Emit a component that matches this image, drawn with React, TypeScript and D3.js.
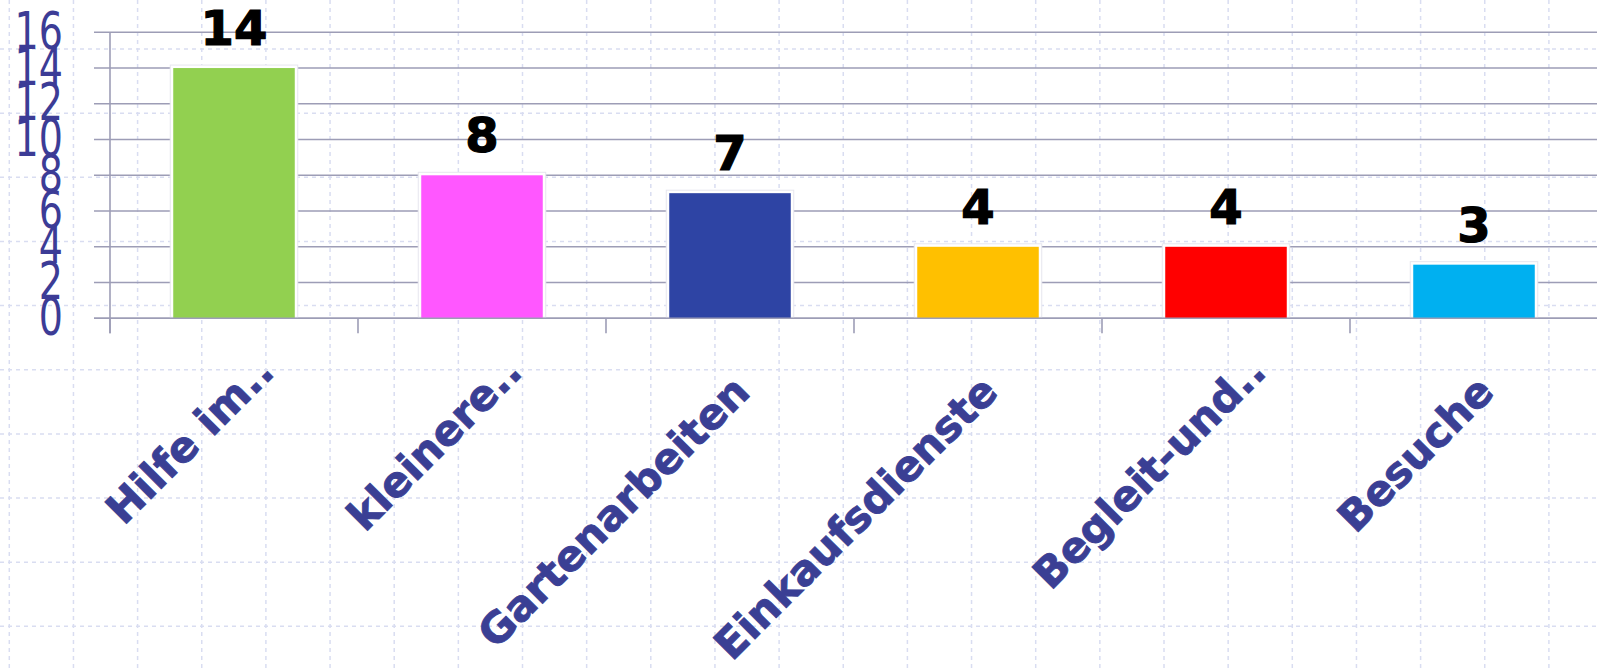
import React, { useEffect } from "react";
import * as d3 from "d3";

const categories = ["Hilfe im..", "kleinere..", "Gartenarbeiten", "Einkaufsdienste", "Begleit-und..", "Besuche"];
const values = [14, 8, 7, 4, 4, 3];
const colors = ["#92d050", "#ff57ff", "#2e44a4", "#ffc000", "#ff0000", "#00b0f0"];
const yTicks = [0, 2, 4, 6, 8, 10, 12, 14, 16];

const W = 1597;
const H = 668;

export default function App() {
  useEffect(() => {
    document.body.style.margin = "0";
  }, []);

  const x = d3.scaleBand<string>().domain(categories).range([110, 110 + 6 * 248]).padding(0);
  const y = d3.scaleLinear().domain([0, 16]).range([318.3, 32.3]);
  const barW = x.bandwidth() * 0.49;

  const bgStep = 64.15;
  const bgV = d3.range(0, 26).map((k) => 9.3 + k * bgStep).filter((v) => v <= W);
  const bgH = d3.range(0, 11).map((k) => 49 + k * bgStep).filter((v) => v <= H);

  const gridColor = "#9d9db6";
  const labelBlue = "#3a3f94";

  return (
    <svg width={W} height={H} style={{ position: "absolute", left: 0, top: 0, background: "#ffffff" }}>
      <rect x={0} y={0} width={W} height={H} fill="#ffffff" />
      {/* background dashed grid */}
      <g stroke="#d9ddf1" strokeWidth={1.5} strokeDasharray="4,4">
        {bgV.map((v, i) => (
          <line key={"bv" + i} x1={v} x2={v} y1={0} y2={H} />
        ))}
        {bgH.map((v, i) => (
          <line key={"bh" + i} x1={0} x2={W} y1={v} y2={v} />
        ))}
      </g>
      {/* horizontal gridlines */}
      <g stroke={gridColor} strokeWidth={1.6}>
        {yTicks.map((t) => (
          <line key={"g" + t} x1={94} x2={W} y1={y(t)} y2={y(t)} />
        ))}
        <line x1={110} x2={110} y1={y(16)} y2={y(0) + 15} />
        {categories.map((c) => (
          <line key={"t" + c} x1={x(c)!} x2={x(c)!} y1={y(0)} y2={y(0) + 15} />
        ))}
      </g>
      {/* y labels */}
      <g fill="#3c3c96" fontFamily="DejaVu Sans, Verdana, sans-serif" fontSize={50.7}>
        {yTicks.map((t) => (
          <text
            key={"yl" + t}
            textAnchor="end"
            transform={`translate(63, ${y(t) + 16.5}) scale(0.75, 1)`}
          >
            {t}
          </text>
        ))}
      </g>
      {/* bars */}
      {categories.map((c, i) => {
        const cx = x(c)! + x.bandwidth() / 2;
        const top = y(values[i]);
        return (
          <g key={"b" + c}>
            <rect x={cx - barW / 2 - 3} y={top - 3} width={barW + 6} height={y(0) - top + 2} fill="#ffffff" />
            <rect x={cx - barW / 2 - 3} y={top - 3} width={barW + 6} height={y(0) - top + 2} fill="none" stroke="#e6e6ee" strokeWidth={1} />
            <rect x={cx - barW / 2} y={top} width={barW} height={y(0) - top} fill={colors[i]} />
          </g>
        );
      })}
      <line x1={94} x2={W} y1={y(0)} y2={y(0)} stroke={gridColor} strokeWidth={1.6} />
      {/* value labels */}
      <g fill="#000000" stroke="#000000" strokeWidth={1.2} fontFamily="DejaVu Sans, Verdana, sans-serif" fontWeight="bold" fontSize={48} textAnchor="middle">
        {categories.map((c, i) => (
          <text key={"v" + c} x={x(c)! + x.bandwidth() / 2} y={y(values[i]) - 23}>
            {values[i]}
          </text>
        ))}
      </g>
      {/* category labels */}
      <g fill={labelBlue} stroke={labelBlue} strokeWidth={0.9} fontFamily="DejaVu Sans, Verdana, sans-serif" fontWeight="bold" fontSize={42} textAnchor="end">
        {categories.map((c) => {
          const shift = c.endsWith("..") ? 20 : 0;
          return (
            <text key={"c" + c} transform={`translate(${x(c)! + x.bandwidth() / 2 + 22 + shift}, ${394 - shift}) rotate(-45)`}>
              {c}
            </text>
          );
        })}
      </g>
    </svg>
  );
}
